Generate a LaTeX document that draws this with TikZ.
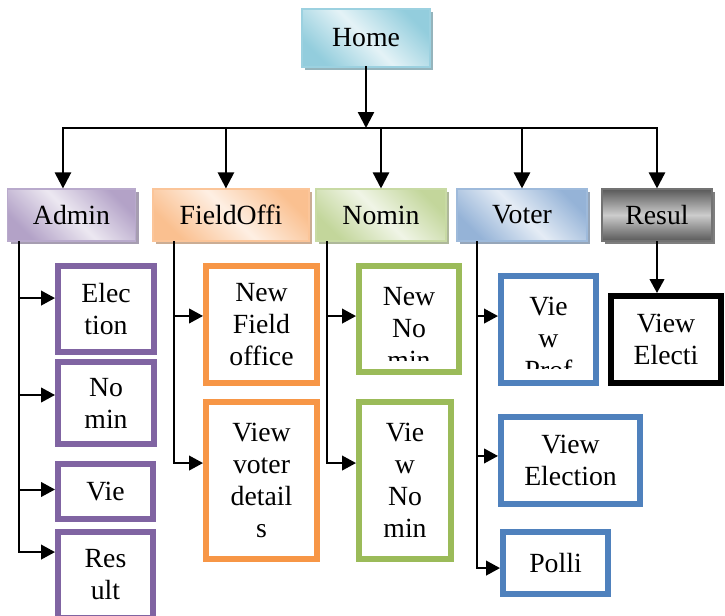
\documentclass[tikz,border=0pt]{standalone}
\usepackage{fontspec}
\setmainfont{Liberation Serif}
\usepackage{tikz}
\usetikzlibrary{arrows.meta, shadows}
\definecolor{office-aqua}{HTML}{4BACC6}
\definecolor{office-purple}{HTML}{8064A2}
\definecolor{office-orange}{HTML}{F79646}
\definecolor{office-green}{HTML}{9BBB59}
\definecolor{office-blue}{HTML}{4F81BD}
\newcommand{\boxfont}{\fontsize{20.8pt}{24pt}\selectfont}

\begin{document}
\begin{tikzpicture}[x=0.75pt, y=-0.75pt,
    wh/.style args={#1/#2}{minimum width=#1*0.75pt, minimum height=#2*0.75pt},
    menu/.style={draw=#1!55, line width=0.8pt, top color=#1!60, bottom color=#1!60, middle color=#1!15,
        shading angle=-45, drop shadow={shadow xshift=2.5pt, shadow yshift=-2.5pt, fill=#1!45!gray!70, opacity=1},
        inner sep=0pt, font=\boxfont},
    item/.style={draw=#1, line width=4.5pt, fill=white, align=center, inner sep=0pt, font=\boxfont},
    txt/.style={align=center, inner sep=0pt, font=\boxfont},
    link/.style={line width=1.5pt, line cap=rect},
    arr/.style={link, -{Triangle[length=10.5pt, width=11pt]}},
    bigarr/.style={line width=1.8pt, line cap=rect, -{Triangle[length=12pt, width=12pt]}}
]
    \useasboundingbox (0,0) rectangle (725,615);

    % top level
    \node (home) [menu=office-aqua, wh=128/58] at (366,38) {Home};
    \coordinate (bus) at (366,128);

    % menu bar
    \node (admin) [menu=office-purple, wh=128/52] at (71.5,215) {Admin};
    \node (field) [menu=office-orange, wh=156/52] at (231,215) {FieldOffi};
    \node (nomin) [menu=office-green, wh=130/52] at (381,215) {Nomin};
    \node (voter) [menu=office-blue, wh=130/52] at (522,215) {Voter};
    \node (resul) [menu=black, top color=black!65, bottom color=black!65, middle color=black!20, wh=110/52] at (657,215) {Resul};

    % admin pages
    \node (elec) [item=office-purple, wh=96/86] at (106,309) {Elec\\tion};
    \node (nomi) [item=office-purple, wh=96/82] at (106,403) {No\\min};
    \node (vie) [item=office-purple, wh=95/55] at (105.5,491.5) {Vie};
    \node (res) [item=office-purple, wh=95/86] at (105.5,575) {Res\\ult};

    % field office pages
    \node (nfo) [item=office-orange, wh=111/117] at (261.5,324.5) {New\\Field\\office};
    \node (vvd) [item=office-orange, wh=111/157] at (261.5,480.5) {View\\voter\\detail\\s};

    % nomination pages
    \node (nnm) [item=office-green, wh=100/106] at (409,319) {};
    \node (vnm) [item=office-green, wh=92/157] at (405,480.5) {Vie\\w\\No\\min};

    % voter pages
    \node (vpr) [item=office-blue, wh=95/107] at (548.5,329.5) {};
    \node (vel) [item=office-blue, wh=139/87] at (570.5,460.5) {View\\Election};
    \node (pol) [item=office-blue, wh=105/62] at (555.5,563) {Polli};

    % result page
    \node (vee) [item=black, wh=110/87] at (666,339.5) {View\\Electi};

    % text cut off by the box
    \begin{scope}
        \clip (nnm.north west) rectangle ([yshift=11.25pt]nnm.south east);
        \node (nnm-t) [txt, anchor=north] at ([yshift=-18pt]nnm.north) {New\\No\\min};
    \end{scope}
    \begin{scope}
        \clip (vpr.north west) rectangle ([yshift=13.5pt]vpr.south east);
        \node (vpr-t) [txt, anchor=north] at ([yshift=-18pt]vpr.north) {Vie\\w\\Prof};
    \end{scope}

    % home to menu bar
    \draw[bigarr] (home) -- (bus);
    \coordinate (adm-top) at ([xshift=-6.4pt]admin.north);
    \coordinate (fld-top) at ([xshift=-3.8pt]field.north);
    \draw[bigarr, -] (bus -| adm-top) -- (bus -| resul.north);
    \foreach \t in {adm-top, fld-top, nomin.north, voter.north, resul.north}
        \draw[bigarr] (bus -| \t) -- (\t);

    % menu bar to pages
    \foreach \c/\d in {elec/8.2, nomi/6, vie/1.5, res/17.2, nfo/6.4, vvd/13.1, nnm/2.2, vnm/13.1, vpr/10.1, vel/3.4, pol/-3.8}
        \coordinate (\c-in) at ([yshift=\d pt]\c.west);
    \coordinate (adm-sp) at ([xshift=9pt]admin.south west);
    \coordinate (fld-sp) at ([xshift=16.5pt]field.south west);
    \coordinate (nom-sp) at ([xshift=9pt]nomin.south west);
    \coordinate (vot-sp) at ([xshift=15.75pt]voter.south west);

    \draw[link] (adm-sp) -- (adm-sp |- res-in);
    \foreach \c in {elec, nomi, vie, res}
        \draw[arr] (adm-sp |- \c-in) -- (\c-in);
    \draw[link] (fld-sp) -- (fld-sp |- vvd-in);
    \foreach \c in {nfo, vvd}
        \draw[arr] (fld-sp |- \c-in) -- (\c-in);
    \draw[link] (nom-sp) -- (nom-sp |- vnm-in);
    \foreach \c in {nnm, vnm}
        \draw[arr] (nom-sp |- \c-in) -- (\c-in);
    \draw[link] (vot-sp) -- (vot-sp |- pol-in);
    \foreach \c in {vpr, vel, pol}
        \draw[arr] (vot-sp |- \c-in) -- (\c-in);
    \draw[arr] (resul.south) -- (resul.south |- vee.north);
\end{tikzpicture}
\end{document}
